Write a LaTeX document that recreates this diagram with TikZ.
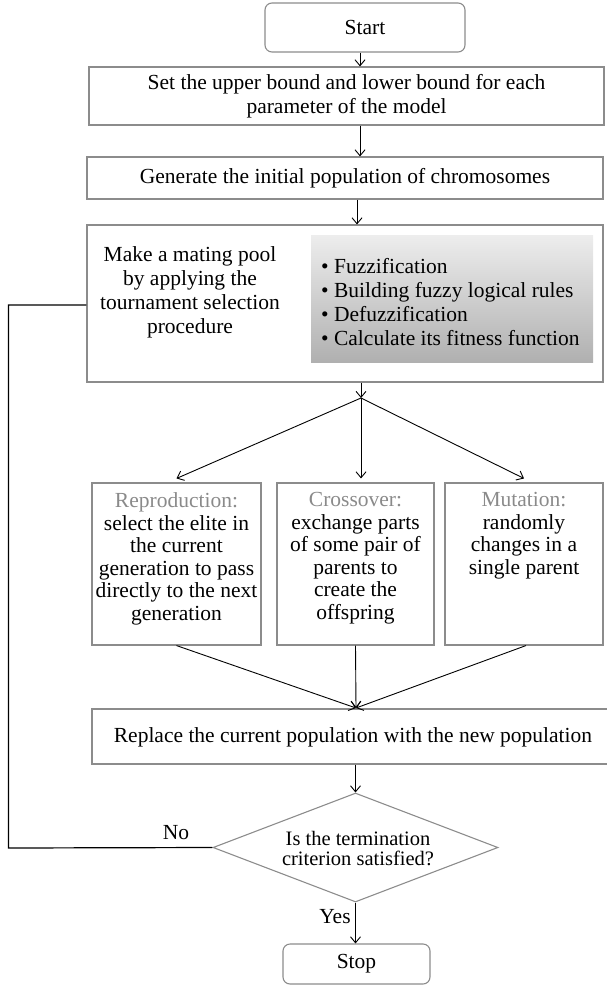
\documentclass[tikz,border=0pt]{standalone}
\usepackage{fontspec}
\setmainfont{Liberation Serif}
\usetikzlibrary{shapes.geometric,arrows.meta}
\definecolor{bordergray}{HTML}{8C8C8C}
\definecolor{labelgray}{HTML}{8A8A8A}
\begin{document}
\begin{tikzpicture}[x=1pt,y=-1pt,
  box/.style={draw=bordergray,line width=1.1pt,rectangle,inner sep=0pt},
  rbox/.style={box,rounded corners=7pt},
  txt/.style={align=center,inner sep=0pt,font=\fontsize{21.5}{24}\selectfont},
  smalltxt/.style={txt,anchor=north,font=\fontsize{21.5}{22.5}\selectfont},
  arr/.style={-{Straight Barb[length=6pt,width=10pt]},line width=0.9pt,black},
  ln/.style={line width=0.9pt,black},
]
\useasboundingbox (0,0) rectangle (607,987);
\coordinate (col) at (360,0);
% nodes
\node[rbox,minimum width=200pt,minimum height=49pt] (start) at (365,27.5) {};
\node[txt] (starttxt) at (start.center) {Start};
\node[box,minimum width=515pt,minimum height=58pt] (box1) at (346.5,96) {};
\node[txt] (box1txt) at (box1.center) {Set the upper bound and lower bound for each\\parameter of the model};
\node[box,minimum width=516pt,minimum height=42pt] (box2) at (345,178) {};
\node[txt] (box2txt) at (box2.center) {Generate the initial population of chromosomes};
\node[box,minimum width=516pt,minimum height=157pt] (big) at (345,303.5) {};
\node[rectangle,inner sep=0pt,minimum width=282pt,minimum height=127pt,top color=black!7,bottom color=black!31] (gray) at (452,298.5) {};
\node[txt] (lefttxt) at (190,292.5) {Make a mating pool\\by applying the\\tournament selection\\procedure};
\node[txt,align=left,anchor=west] (bullets) at (321,302.5) {\textbullet\ Fuzzification\\\textbullet\ Building fuzzy logical rules\\\textbullet\ Defuzzification\\\textbullet\ Calculate its fitness function};
\coordinate (junc) at (361,398);
\node[box,minimum width=169pt,minimum height=162pt] (rep) at (176.5,564) {};
\node[box,minimum width=157pt,minimum height=162pt] (cro) at (355.5,564) {};
\node[box,minimum width=158pt,minimum height=162pt] (mut) at (524,564) {};
\node[smalltxt] (reptxt) at ([yshift=-10pt]rep.north) {\textcolor{labelgray}{Reproduction:}\\select the elite in\\the current\\generation to pass\\directly to the next\\generation};
\node[smalltxt] (crotxt) at ([yshift=-10pt]cro.north) {\textcolor{labelgray}{Crossover:}\\exchange parts\\of some pair of\\parents to\\create the\\offspring};
\node[smalltxt] (muttxt) at ([yshift=-10pt]mut.north) {\textcolor{labelgray}{Mutation:}\\randomly\\changes in a\\single parent};
\node[box,minimum width=524pt,minimum height=55pt] (repl) at (354,736.5) {};
\node[txt] (repltxt) at (353,737) {Replace the current population with the new population};
\node[diamond,draw=bordergray,line width=1.1pt,inner sep=0pt,minimum width=285pt,minimum height=109pt] (dec) at (355.5,847.5) {};
\node[txt,font=\fontsize{20.5}{20}\selectfont] (dectxt) at (358,849) {Is the termination\\criterion satisfied?};
\node[rbox,minimum width=147pt,minimum height=40pt] (stop) at (356.5,964) {};
\node[txt] (stoptxt) at (stop.center) {Stop};
\node[txt] (no) at (176,833) {No};
\node[txt] (yes) at (335,917) {Yes};
% connectors
\draw[arr] (start.south -| col) -- (box1.north -| col);
\draw[arr] (box1.south -| col) -- (box2.north -| col);
\draw[arr] ([xshift=-3pt]box2.south -| col) -- ([xshift=-3pt]big.north -| col);
\draw[arr] (big.south -| junc) -- (junc);
\draw[arr] (junc) -- ([yshift=4pt]rep.north);
\draw[arr] (junc) -- ([yshift=4pt]cro.north -| junc);
\draw[arr] (junc) -- ([yshift=4pt]mut.north);
\coordinate (meet) at (356,708);
\draw[arr] (rep.south) -- (meet);
\draw[arr] (cro.south) -- (meet);
\draw[arr] ([xshift=2pt]mut.south) -- (meet);
\draw[arr] (repl.south -| dec.north) -- (dec.north);
\draw[arr] (dec.south) -- (stop.north -| dec.south);
\coordinate (loopl) at (8.5,848);
\draw[ln,line width=1.2pt] (dec.west) -- (loopl) -- (8.5,305) -- (big.west |- 0,305);
\end{tikzpicture}
\end{document}
